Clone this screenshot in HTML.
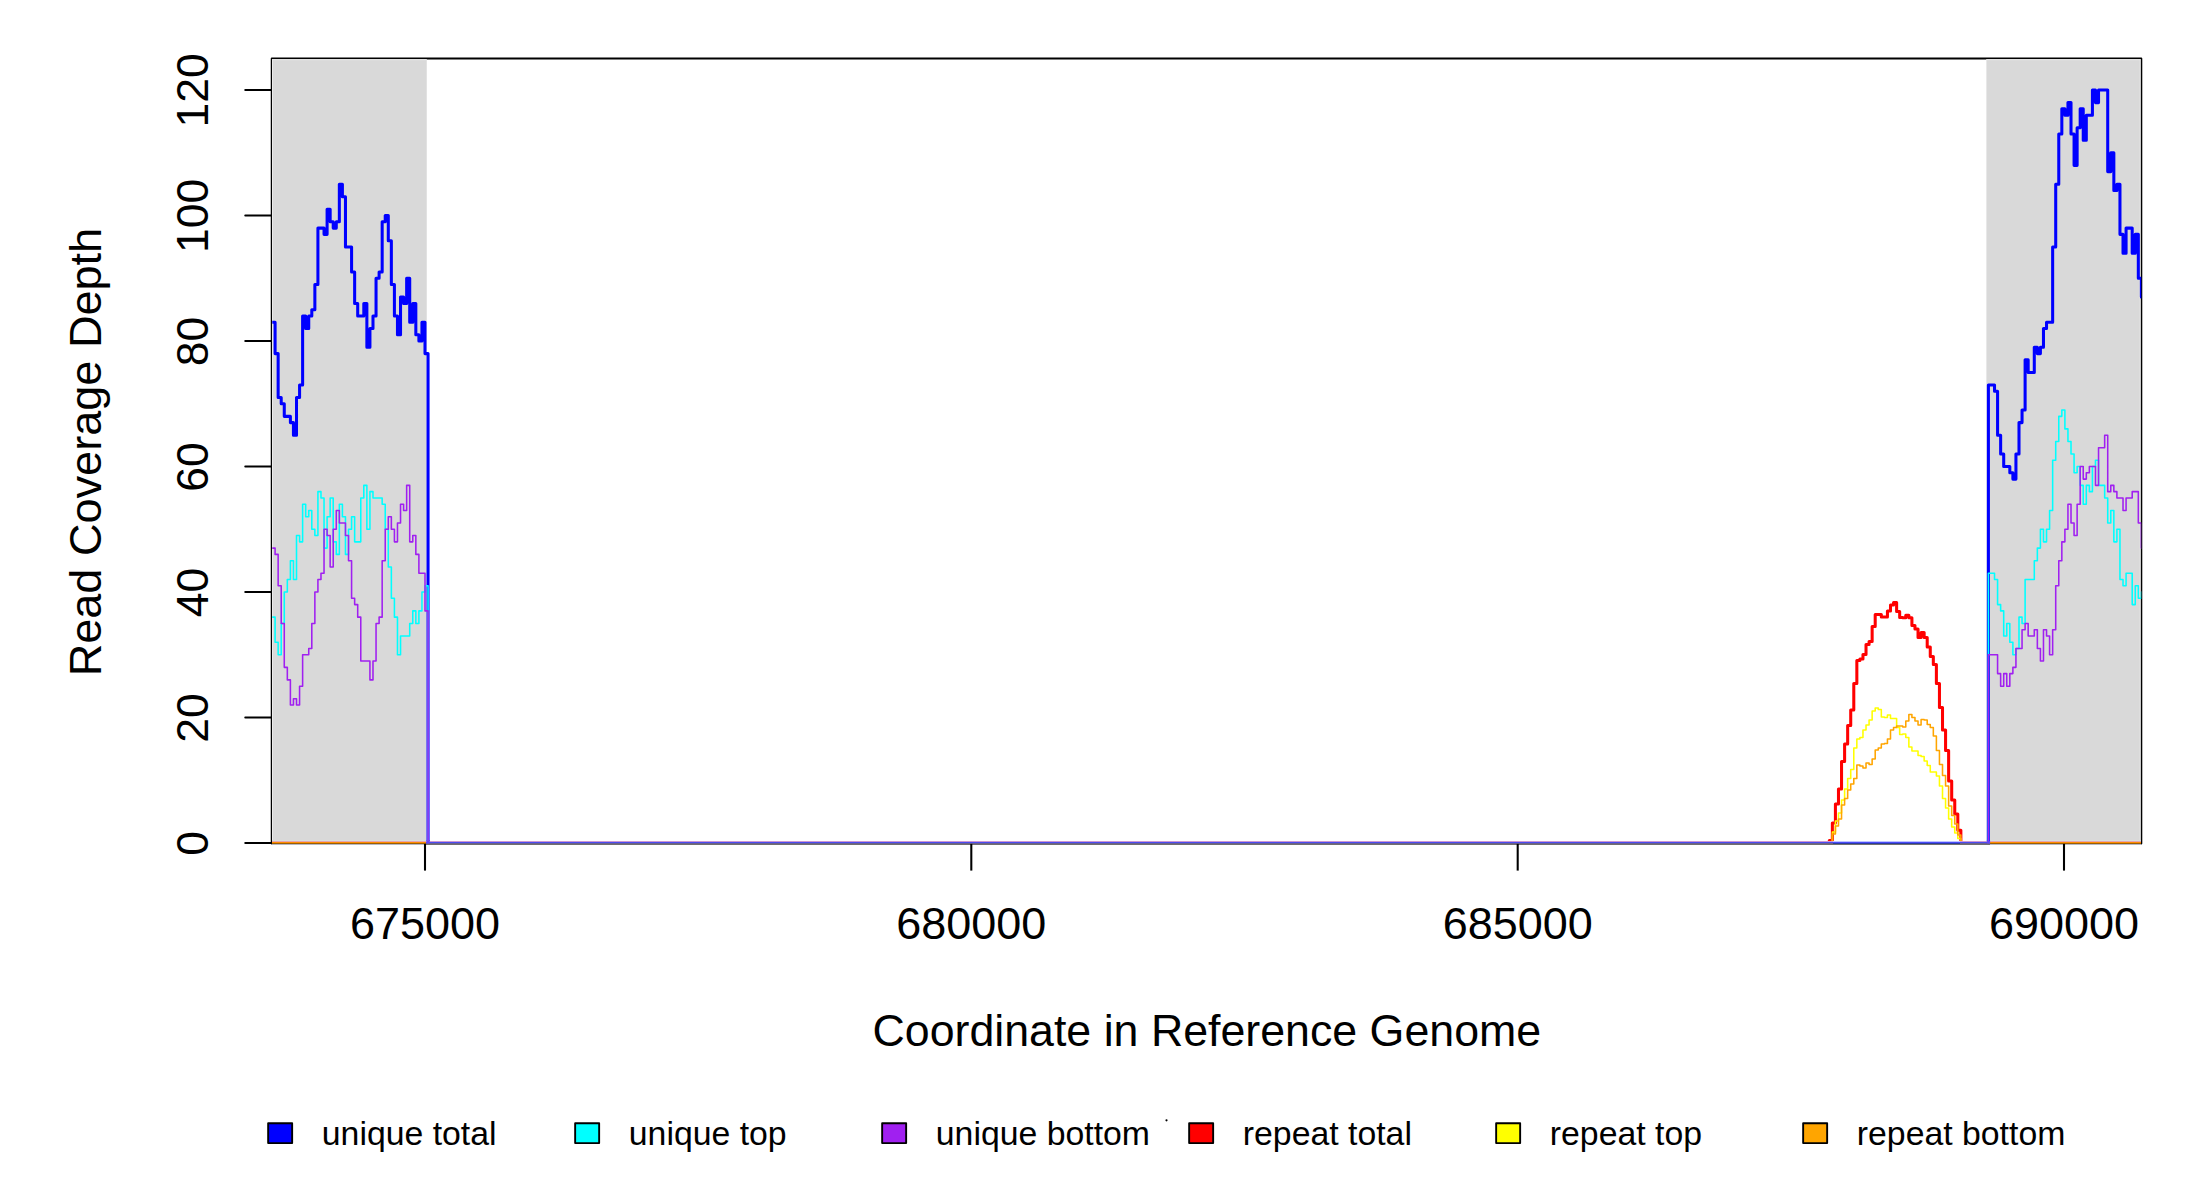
<!DOCTYPE html>
<html lang="en"><head><meta charset="utf-8"><title>Read coverage depth</title>
<style>
html,body{margin:0;padding:0;background:#fff}
body{width:2200px;height:1200px;overflow:hidden}
svg{display:block}
text{font-family:"Liberation Sans",sans-serif;fill:#000}
.ax{font-size:44.4px}
.lg{font-size:33.8px}
.thin{fill:none;stroke-width:1.56;stroke-linejoin:round;stroke-linecap:butt}
.thick{fill:none;stroke-width:3.05;stroke-linejoin:round;stroke-linecap:butt}
.bk{fill:none;stroke:#000;stroke-width:2.08;stroke-linecap:round;stroke-linejoin:round}
</style></head><body>
<svg width="2200" height="1200" viewBox="0 0 2200 1200">
<rect x="0" y="0" width="2200" height="1200" fill="#fff"/>
<defs><clipPath id="pc"><rect x="272.3" y="58.5" width="1868.95" height="782.5"/></clipPath></defs>
<g class="bk">
<rect x="271.8" y="58.5" width="1869.45" height="785"/>
<path d="M271.8 843.05H245.3"/>
<path d="M271.8 717.55H245.3"/>
<path d="M271.8 592.05H245.3"/>
<path d="M271.8 466.55H245.3"/>
<path d="M271.8 341.05H245.3"/>
<path d="M271.8 215.55H245.3"/>
<path d="M271.8 90.05H245.3"/>
</g>
<rect x="272.5" y="59.4" width="154.25" height="783.8" fill="#d9d9d9"/>
<rect x="1986.4" y="59.4" width="154" height="783.8" fill="#d9d9d9"/>
<g fill="#ebebeb"><rect x="272" y="59.2" width="154.75" height="1"/><rect x="272" y="59.2" width="1" height="782"/><rect x="1986.2" y="59.2" width="154.4" height="1"/><rect x="2139.7" y="59.2" width="1" height="782"/></g>
<g shape-rendering="crispEdges">
<rect x="272" y="840" width="154" height="1" fill="#d7dede"/><rect x="272" y="841" width="154" height="1" fill="#e4a5af"/><rect x="272" y="842" width="154" height="1" fill="#ff8c00"/><rect x="272" y="843" width="154" height="1" fill="#9e5e00"/><rect x="272" y="844" width="154" height="1" fill="#b5b8c4"/>
<rect x="1990" y="840" width="151" height="1" fill="#d7dede"/><rect x="1990" y="841" width="151" height="1" fill="#e4a5af"/><rect x="1990" y="842" width="151" height="1" fill="#ff8c00"/><rect x="1990" y="843" width="151" height="1" fill="#9e5e00"/><rect x="1990" y="844" width="151" height="1" fill="#b5b8c4"/>
<rect x="426" y="841" width="1407" height="1" fill="#cd96d2"/><rect x="426" y="842" width="1407" height="1" fill="#4b4bf0"/><rect x="426" y="843" width="1407" height="1" fill="#695f8c"/><rect x="426" y="844" width="1407" height="1" fill="#706e6e"/>
<rect x="1960" y="841" width="30" height="1" fill="#cd96d2"/><rect x="1960" y="842" width="30" height="1" fill="#4b4bf0"/><rect x="1960" y="843" width="30" height="1" fill="#695f8c"/><rect x="1960" y="844" width="30" height="1" fill="#706e6e"/>
<rect x="1833" y="841" width="127" height="1" fill="#bec3ff"/><rect x="1833" y="842" width="127" height="1" fill="#4b4bfa"/><rect x="1833" y="843" width="127" height="1" fill="#2a3aa0"/><rect x="1833" y="844" width="127" height="1" fill="#73706e"/>
</g>
<rect x="426.4" y="840.5" width="3.3" height="3" fill="#6444f4"/><rect x="1986.8" y="840.5" width="3.3" height="3" fill="#6444f4"/>
<g class="bk" style="stroke-linecap:butt"><path d="M425 843.9V870.6"/><path d="M971.3 843.9V870.6"/><path d="M1517.7 843.9V870.6"/><path d="M2064 843.9V870.6"/></g>
<g clip-path="url(#pc)">
<path class="thick" stroke="#0000ff" d="M272.03 322.22H275.09V353.6H278.15V397.52H281.21V403.8H284.27V416.35H290.39V422.62H293.45V435.17H296.51V397.52H299.57V384.97H302.62V315.95H305.68V328.5H308.74V315.95H311.8V309.67H314.86V284.57H317.92V228.1H324.04V234.37H327.1V209.27H330.16V221.82H333.22V228.1H336.28V221.82H339.34V184.17H342.4V196.72H345.46V246.92H351.58V272.02H354.64V303.4H357.7V315.95H363.81V303.4H366.87V347.32H369.93V328.5H372.99V315.95H376.05V278.3H379.11V272.02H382.17V221.82H385.23V215.55H388.29V240.65H391.35V284.57H394.41V315.95H397.47V334.77H400.53V297.12H403.59V303.4H406.65V278.3H409.71V322.22H412.77V303.4H415.83V334.77H418.89V341.05H421.95V322.22H425V353.6H428.06V843.05M1988.4 843.05V384.97H1994.52V391.25H1997.58V435.17H2000.64V454H2003.7V466.55H2009.82V472.82H2012.88V479.1H2015.94V454H2019V422.62H2022.05V410.07H2025.11V359.87H2028.17V372.42H2034.29V347.32H2037.35V353.6H2040.41V347.32H2043.47V328.5H2046.53V322.22H2052.65V246.92H2055.71V184.17H2058.77V133.97H2061.83V108.87H2064.89V115.15H2067.95V102.6H2071.01V133.97H2074.07V165.35H2077.13V127.7H2080.18V108.87H2083.24V140.25H2086.3V115.15H2092.42V90.05H2095.48V102.6H2098.54V90.05H2107.72V171.62H2110.78V152.8H2113.84V190.45H2116.9V184.17H2119.96V234.37H2123.02V253.2H2126.08V228.1H2132.2V253.2H2135.26V234.37H2138.32V278.3H2141.38V297.12H2144.25"/>
<path class="thin" stroke="#00ffff" d="M272.03 617.15H275.09V642.25H278.15V654.8H281.21V623.42H284.27V592.05H287.33V579.5H290.39V560.67H293.45V579.5H296.51V535.57H299.57V541.85H302.62V504.2H305.68V516.75H308.74V510.47H311.8V529.3H314.86V535.57H317.92V491.65H320.98V497.92H324.04V548.12H327.1V516.75H330.16V497.92H333.22V541.85H336.28V554.4H339.34V504.2H342.4V516.75H345.46V554.4H348.52V529.3H351.58V516.75H354.64V541.85H360.76V497.92H363.81V485.37H366.87V529.3H369.93V491.65H372.99V497.92H382.17V504.2H385.23V529.3H388.29V566.95H391.35V598.32H394.41V617.15H397.47V654.8H400.53V635.97H409.71V623.42H412.77V610.88H415.83V623.42H418.89V610.88H421.95V592.05H425V585.77H428.06V843.05M1988.4 843.05V573.22H1994.52V579.5H1997.58V604.6H2000.64V610.88H2003.7V635.97H2006.76V623.42H2009.82V642.25H2012.88V654.8H2015.94V648.52H2019V617.15H2022.05V623.42H2025.11V579.5H2034.29V560.67H2037.35V548.12H2040.41V529.3H2043.47V541.85H2046.53V529.3H2049.59V510.47H2052.65V460.27H2055.71V441.45H2058.77V416.35H2061.83V410.07H2064.89V428.9H2067.95V441.45H2071.01V454H2074.07V472.82H2077.13V466.55H2080.18V485.37H2083.24V504.2H2086.3V485.37H2089.36V491.65H2092.42V466.55H2095.48V460.27H2098.54V485.37H2104.66V497.92H2107.72V523.02H2110.78V510.47H2113.84V541.85H2116.9V529.3H2119.96V579.5H2123.02V585.77H2126.08V573.22H2132.2V604.6H2135.26V585.77H2138.32V598.32H2141.38V592.05H2144.25"/>
<path class="thin" stroke="#a020f0" d="M272.03 548.12H275.09V554.4H278.15V585.77H281.21V623.42H284.27V667.35H287.33V679.9H290.39V705H293.45V698.72H296.51V705H299.57V686.17H302.62V654.8H308.74V648.52H311.8V623.42H314.86V592.05H317.92V579.5H320.98V573.22H324.04V529.3H327.1V535.57H330.16V566.95H333.22V529.3H336.28V510.47H339.34V523.02H345.46V535.57H348.52V560.67H351.58V598.32H354.64V604.6H357.7V617.15H360.76V661.07H369.93V679.9H372.99V661.07H376.05V623.42H379.11V617.15H382.17V560.67H385.23V529.3H388.29V516.75H391.35V529.3H394.41V541.85H397.47V523.02H400.53V504.2H403.59V510.47H406.65V485.37H409.71V541.85H412.77V535.57H415.83V554.4H418.89V573.22H425V610.88H428.06V843.05M1988.4 843.05V654.8H1997.58V673.62H2000.64V686.17H2003.7V673.62H2006.76V686.17H2009.82V673.62H2012.88V667.35H2015.94V648.52H2022.05V629.7H2025.11V623.42H2028.17V635.97H2034.29V629.7H2037.35V648.52H2040.41V661.07H2043.47V629.7H2046.53V635.97H2049.59V654.8H2052.65V629.7H2055.71V585.77H2058.77V560.67H2061.83V541.85H2064.89V529.3H2067.95V504.2H2071.01V523.02H2074.07V535.57H2077.13V504.2H2080.18V466.55H2083.24V479.1H2086.3V472.82H2089.36V466.55H2095.48V485.37H2098.54V447.72H2104.66V435.17H2107.72V491.65H2110.78V485.37H2113.84V491.65H2116.9V497.92H2123.02V510.47H2126.08V497.92H2132.2V491.65H2138.32V523.02H2141.38V548.12H2144.25"/>
<path class="thick" stroke="#ff0000" d="M1829.31 843.05V840.5H1832.37V823H1835.42V804H1838.48V789H1841.54V761.5H1844.6V744H1847.66V725.5H1850.72V710H1853.78V683.5H1856.84V660.5H1859.9V659H1862.96V654.5H1866.02V644.5H1869.08V641.5H1872.14V626.5H1875.2V614.5H1881.32V617H1887.44V611H1890.5V605H1893.56V602.5H1896.62V611.5H1899.67V617.5H1902.73V617.7H1905.79V615.2H1908.85V617.7H1911.91V625.5H1914.97V629H1918.03V637.5H1921.09V632.5H1924.15V637.5H1927.21V647H1930.27V656.5H1933.33V664.5H1936.39V683.5H1939.45V707.5H1942.51V730H1945.57V750.5H1948.63V781H1951.69V800H1954.75V814H1957.81V830.3H1960.86V843.05"/>
<path class="thin" stroke="#ffff00" d="M1829.31 843.05V841.8H1832.37V832H1835.42V821H1838.48V813H1841.54V800H1844.6V789H1847.66V778.5H1850.72V769.5H1853.78V748H1856.84V739H1859.9V737.5H1862.96V730H1866.02V725H1869.08V720H1872.14V711H1875.2V708H1878.26V709.5H1881.32V717H1884.38V717.5H1887.44V715H1890.5V718.5H1896.62V727.5H1899.67V734.5H1902.73V734H1905.79V737.5H1908.85V747H1911.91V751H1918.03V755.5H1921.09V756.5H1924.15V761H1927.21V765.5H1930.27V772H1936.39V776H1939.45V786H1942.51V798.5H1945.57V808H1948.63V819H1951.69V827H1954.75V833H1957.81V838.5H1960.86V843.05"/>
<path class="thin" stroke="#ffa500" d="M1829.31 843.05V841.8H1832.37V834H1835.42V826H1838.48V819H1841.54V805H1844.6V798.5H1847.66V790H1850.72V784H1853.78V778.5H1856.84V765H1859.9V766H1862.96V768H1866.02V763H1869.08V764.5H1872.14V759H1875.2V750H1878.26V748H1881.32V744H1884.38V743.5H1887.44V739H1890.5V730H1893.56V727.5H1896.62V726H1902.73V727H1905.79V721H1908.85V714.5H1911.91V717.5H1914.97V721H1918.03V725H1921.09V719.5H1924.15V720H1927.21V724.5H1930.27V727.5H1933.33V736H1936.39V750.5H1939.45V764.5H1942.51V775.5H1945.57V786H1948.63V806H1951.69V815.5H1954.75V824H1957.81V835H1960.86V843.05"/>
</g>
<text class="ax" transform="translate(425 939) scale(1.013 1)" text-anchor="middle">675000</text>
<text class="ax" transform="translate(971.3 939) scale(1.013 1)" text-anchor="middle">680000</text>
<text class="ax" transform="translate(1517.7 939) scale(1.013 1)" text-anchor="middle">685000</text>
<text class="ax" transform="translate(2064 939) scale(1.013 1)" text-anchor="middle">690000</text>
<text class="ax" transform="translate(208.3 843.45) rotate(-90) scale(1.004 1)" text-anchor="middle">0</text>
<text class="ax" transform="translate(208.3 717.95) rotate(-90) scale(1.004 1)" text-anchor="middle">20</text>
<text class="ax" transform="translate(208.3 592.45) rotate(-90) scale(1.004 1)" text-anchor="middle">40</text>
<text class="ax" transform="translate(208.3 466.95) rotate(-90) scale(1.004 1)" text-anchor="middle">60</text>
<text class="ax" transform="translate(208.3 341.45) rotate(-90) scale(1.004 1)" text-anchor="middle">80</text>
<text class="ax" transform="translate(208.3 215.95) rotate(-90) scale(1.004 1)" text-anchor="middle">100</text>
<text class="ax" transform="translate(208.3 90.45) rotate(-90) scale(1.004 1)" text-anchor="middle">120</text>
<text class="ax" transform="translate(1206.8 1045.6) scale(1.0076 1)" text-anchor="middle">Coordinate in Reference Genome</text>
<text class="ax" transform="translate(101.3 452.1) rotate(-90) scale(1.0155 1)" text-anchor="middle">Read Coverage Depth</text>
<rect x="268.15" y="1123.2" width="24" height="19.9" fill="#0000ff" stroke="#000" stroke-width="1.9" stroke-linejoin="round"/><text class="lg" transform="translate(321.8 1144.8) scale(1.0 1)">unique total</text>
<rect x="575.15" y="1123.2" width="24" height="19.9" fill="#00ffff" stroke="#000" stroke-width="1.9" stroke-linejoin="round"/><text class="lg" transform="translate(628.8 1144.8) scale(1.0 1)">unique top</text>
<rect x="882.15" y="1123.2" width="24" height="19.9" fill="#a020f0" stroke="#000" stroke-width="1.9" stroke-linejoin="round"/><text class="lg" transform="translate(935.8 1144.8) scale(1.0 1)">unique bottom</text>
<rect x="1189.15" y="1123.2" width="24" height="19.9" fill="#ff0000" stroke="#000" stroke-width="1.9" stroke-linejoin="round"/><text class="lg" transform="translate(1242.8 1144.8) scale(1.0 1)">repeat total</text>
<rect x="1496.15" y="1123.2" width="24" height="19.9" fill="#ffff00" stroke="#000" stroke-width="1.9" stroke-linejoin="round"/><text class="lg" transform="translate(1549.8 1144.8) scale(1.0 1)">repeat top</text>
<rect x="1803.15" y="1123.2" width="24" height="19.9" fill="#ffa500" stroke="#000" stroke-width="1.9" stroke-linejoin="round"/><text class="lg" transform="translate(1856.8 1144.8) scale(1.0 1)">repeat bottom</text>
<circle cx="1166.5" cy="1120.3" r="1.1" fill="#000"/>
</svg>
</body></html>
